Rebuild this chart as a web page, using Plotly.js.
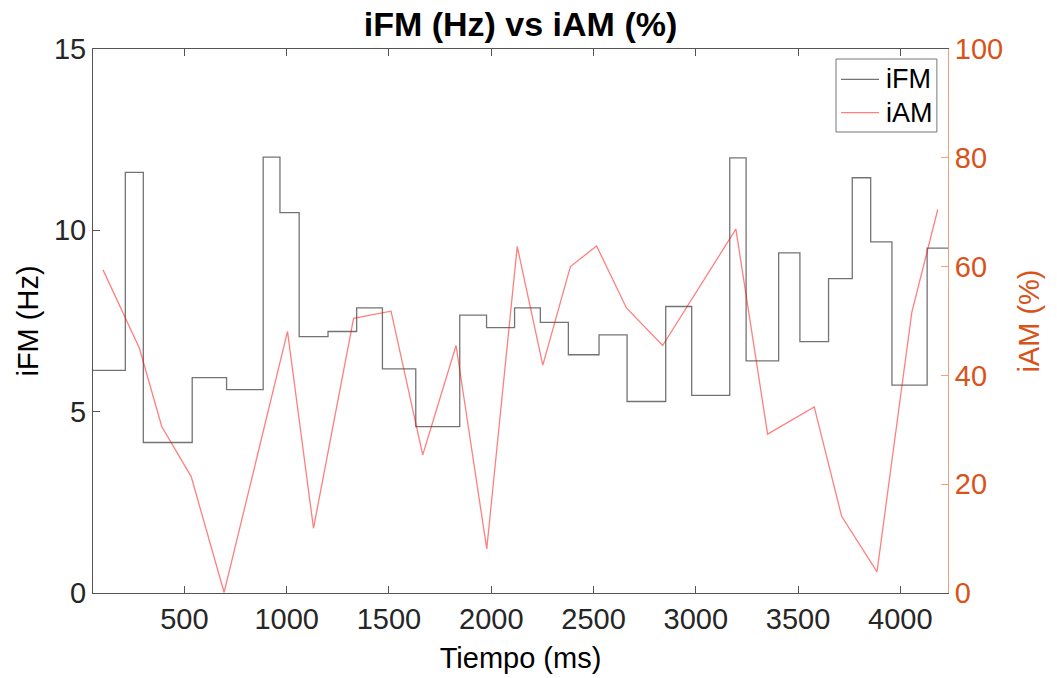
<!DOCTYPE html>
<html>
<head>
<meta charset="utf-8">
<script src="https://cdn.plot.ly/plotly-3.0.1.min.js"></script>
<style>html,body{margin:0;padding:0;background:#fff;}#chart{width:1057px;height:678px;}</style>
</head>
<body>
<div id="chart"></div>
<script>
// iFM (stairs): step start times (ms) and values (Hz); last point closes the final step
const ifmTime = [53, 211, 299, 538, 706, 885, 967, 1061, 1202, 1342, 1468, 1631, 1846, 1977, 2114, 2240, 2377, 2527, 2664, 2853, 2980, 3166, 3246, 3405, 3509, 3649, 3765, 3855, 3959, 4131, 4233];
const ifmValue = [6.14, 11.6, 4.15, 5.94, 5.61, 12.02, 10.49, 7.07, 7.21, 7.86, 6.18, 4.59, 7.66, 7.32, 7.86, 7.46, 6.57, 7.12, 5.28, 7.90, 5.45, 12.0, 6.40, 9.38, 6.93, 8.67, 11.45, 9.68, 5.73, 9.51, 9.51];
// iAM (%)
const iamTime = [102, 280, 389, 533, 694, 1004, 1131, 1327, 1510, 1665, 1828, 1978, 2127, 2252, 2387, 2515, 2661, 2838, 3196, 3351, 3579, 3713, 3886, 4056, 4183];
const iamValue = [59.4, 45.0, 30.6, 21.4, 0.1, 48.1, 11.9, 50.5, 51.8, 25.4, 45.5, 8.1, 63.7, 41.9, 60.0, 63.8, 52.4, 45.5, 66.9, 29.2, 34.2, 14.1, 3.9, 51.6, 70.5];
const xTicks = [500, 1000, 1500, 2000, 2500, 3000, 3500, 4000];
const yLeftTicks = [0, 5, 10, 15];
const yRightTicks = [0, 20, 40, 60, 80, 100];
const seriesNames = ['iFM', 'iAM'];

const FONT = '"Liberation Sans", Arial, Helvetica, sans-serif';
const AXC = '#262626';
const ORANGE = '#D95319';
const seriesColors = ['rgba(0,0,0,0.55)', 'rgba(255,0,0,0.5)'];

const traces = [
  {x: ifmTime, y: ifmValue, type: 'scatter', mode: 'lines', name: seriesNames[0],
   line: {shape: 'hv', color: seriesColors[0], width: 1.3}, yaxis: 'y'},
  {x: iamTime, y: iamValue, type: 'scatter', mode: 'lines', name: seriesNames[1],
   line: {color: seriesColors[1], width: 1.3}, yaxis: 'y2'}
];

// legend box (MATLAB-style) built in paper coordinates
const legBox = {x0: 0.869, x1: 0.987, y0: 0.8474, y1: 0.9816};
const legRows = [0.9443, 0.8829];
const shapes = [
  {type: 'rect', xref: 'paper', yref: 'paper', x0: legBox.x0, x1: legBox.x1, y0: legBox.y0, y1: legBox.y1,
   line: {color: '#777', width: 1}, fillcolor: '#fff', layer: 'above'}
];
const annotations = [];
seriesNames.forEach((n, i) => {
  shapes.push({type: 'line', xref: 'paper', yref: 'paper', x0: 0.8749, x1: 0.9193, y0: legRows[i], y1: legRows[i],
               line: {color: seriesColors[i], width: 1.3}, layer: 'above'});
  annotations.push({xref: 'paper', yref: 'paper', x: 0.9251, y: legRows[i], xanchor: 'left', yanchor: 'middle',
                    text: n, showarrow: false, font: {family: FONT, size: 27, color: '#000'}});
});

const layout = {
  width: 1057, height: 678,
  margin: {l: 93, r: 109, t: 49, b: 85},
  paper_bgcolor: '#fff', plot_bgcolor: '#fff',
  font: {family: FONT, color: AXC},
  showlegend: false,
  shapes: shapes,
  annotations: annotations,
  title: {text: '<b>iFM (Hz) vs iAM (%)</b>', font: {family: FONT, size: 34, color: '#000'},
          x: 0.5, xref: 'paper', xanchor: 'center', y: 1, yref: 'container', yanchor: 'top', pad: {t: 12}},
  xaxis: {
    range: [53, 4233], tickvals: xTicks, ticktext: xTicks.map(String),
    ticks: 'inside', ticklen: 7, tickcolor: '#555', tickwidth: 1,
    showline: true, linecolor: '#555', linewidth: 1, mirror: 'ticks',
    showgrid: false, zeroline: false,
    tickfont: {family: FONT, size: 29, color: AXC},
    title: {text: 'Tiempo (ms)', font: {family: FONT, size: 29, color: '#000'}, standoff: 13}
  },
  yaxis: {
    range: [0, 15], tickvals: yLeftTicks,
    ticks: 'inside', ticklen: 7, tickcolor: '#555', tickwidth: 1,
    showline: true, linecolor: '#555', linewidth: 1, mirror: false,
    showgrid: false, zeroline: false,
    tickfont: {family: FONT, size: 29, color: AXC},
    title: {text: 'iFM (Hz)', font: {family: FONT, size: 29, color: '#000'}, standoff: 6}
  },
  yaxis2: {
    range: [0, 100], tickvals: yRightTicks, overlaying: 'y', side: 'right',
    ticks: 'inside', ticklen: 7, tickcolor: '#F0A080', tickwidth: 1,
    showline: true, linecolor: '#F0A080', linewidth: 1,
    showgrid: false, zeroline: false,
    tickfont: {family: FONT, size: 29, color: ORANGE},
    title: {text: 'iAM (%)', font: {family: FONT, size: 29, color: ORANGE}, standoff: 16}
  }
};

Plotly.newPlot('chart', traces, layout, {displayModeBar: false, staticPlot: true});
</script>
</body>
</html>
